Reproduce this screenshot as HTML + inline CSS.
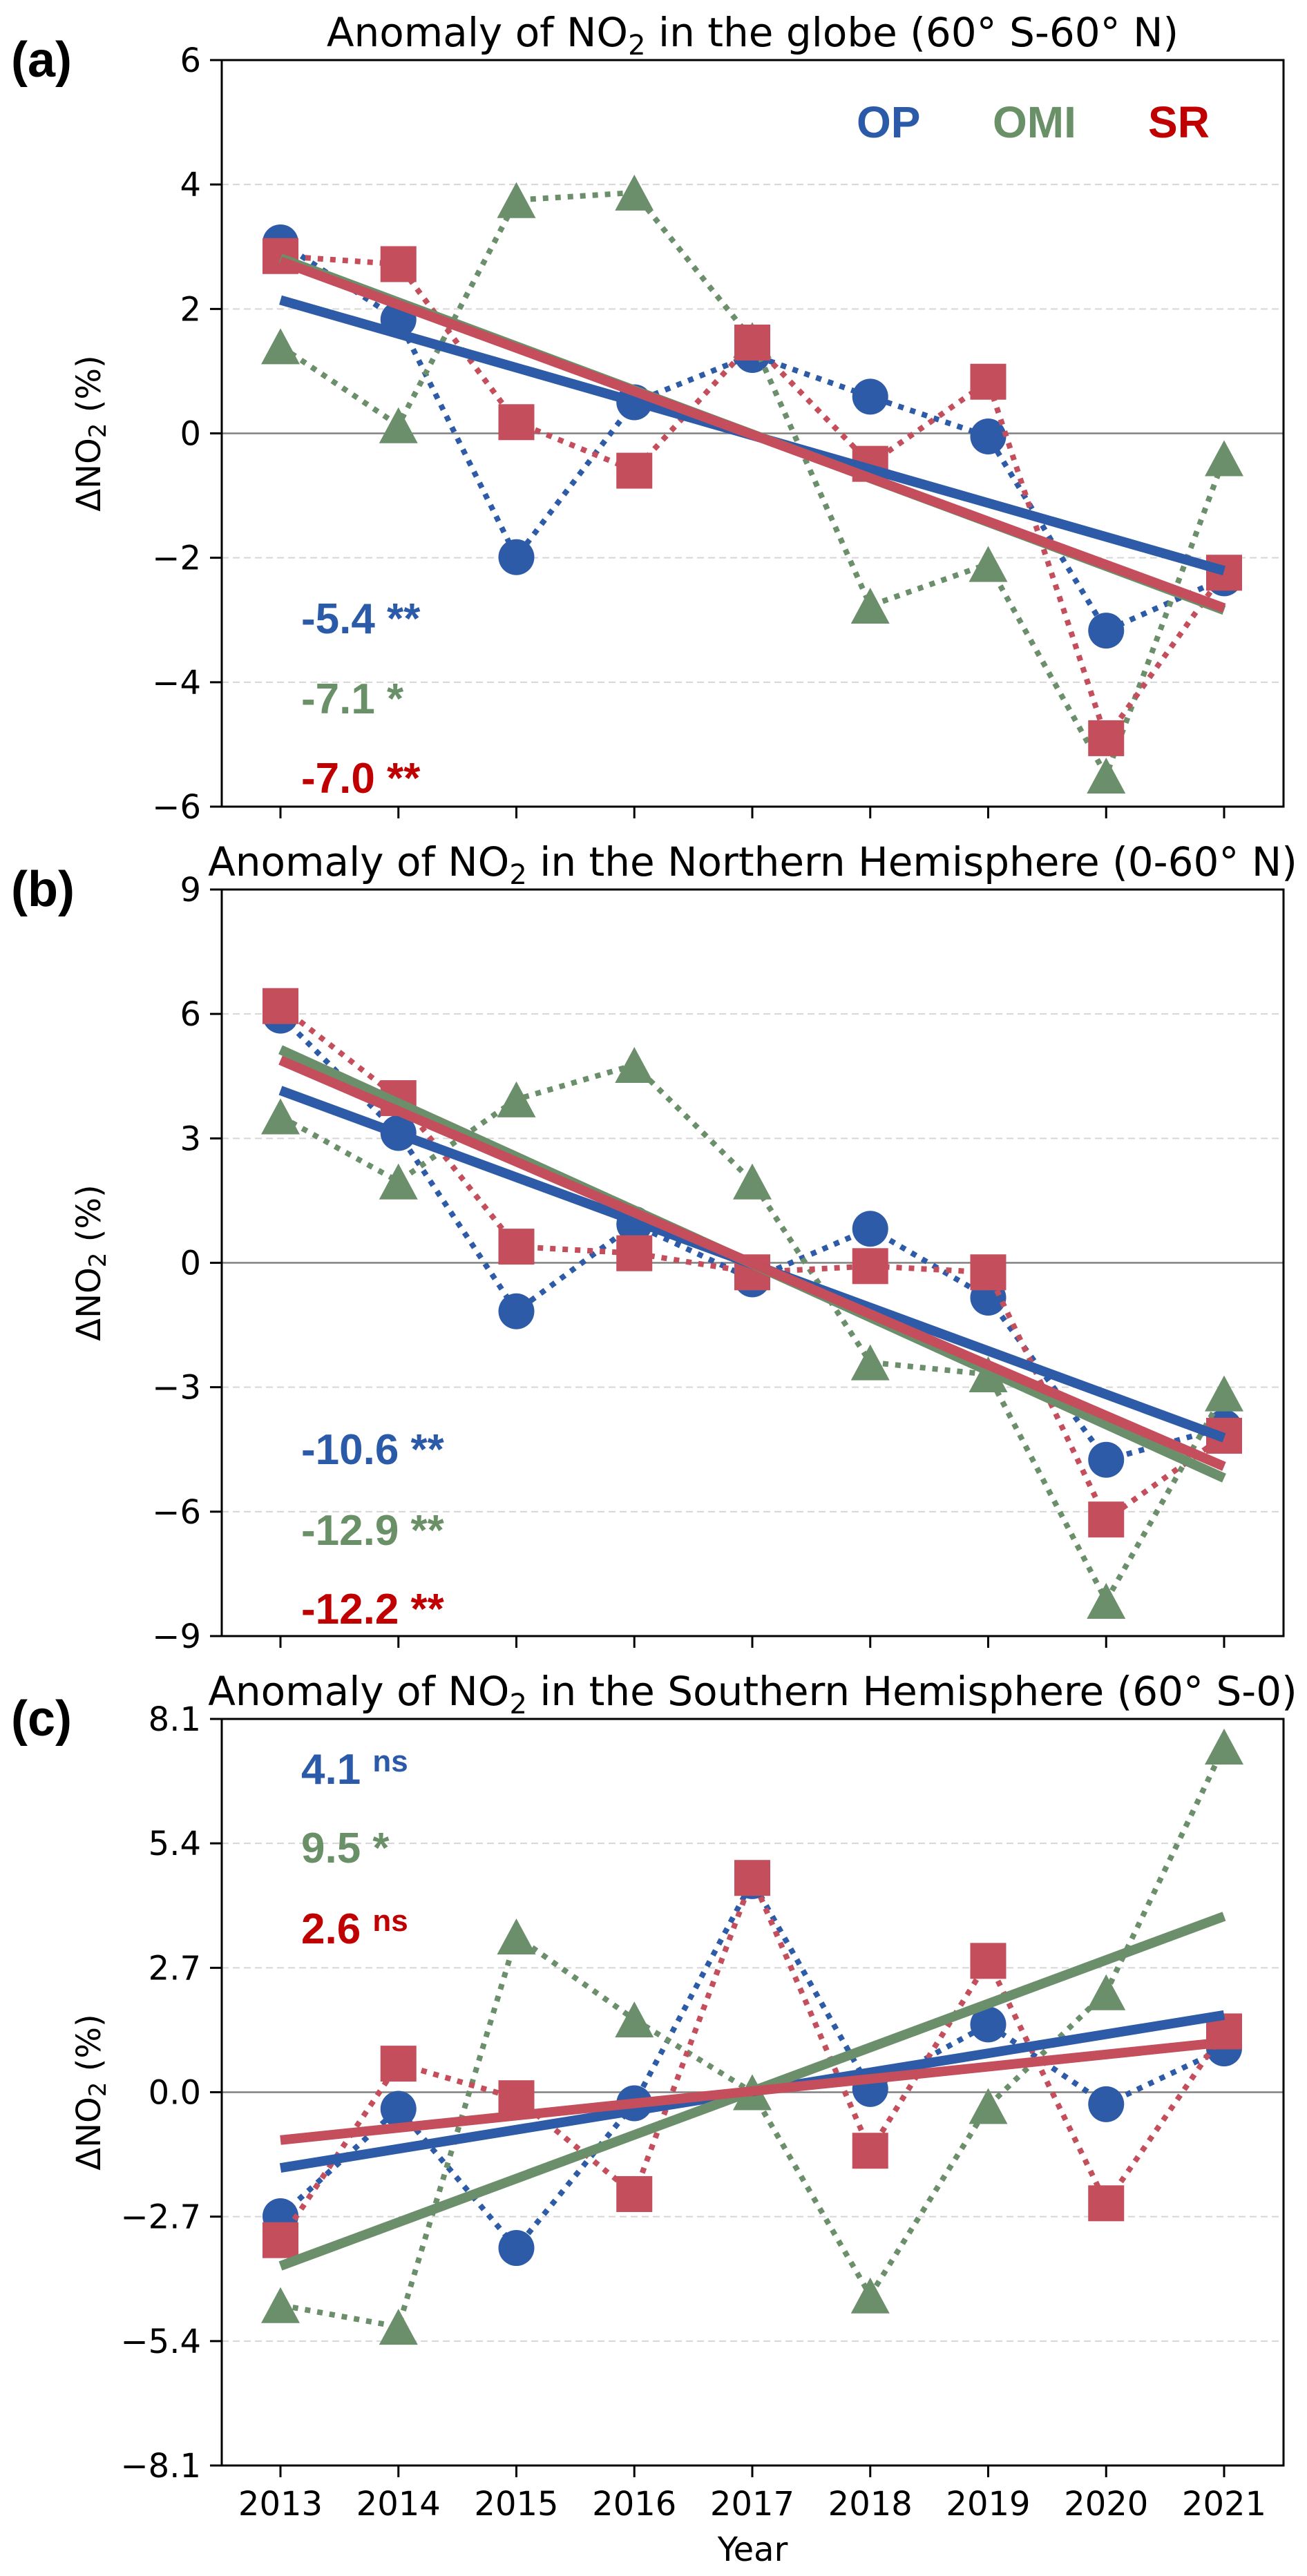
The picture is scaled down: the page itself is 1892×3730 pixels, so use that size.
<!DOCTYPE html>
<html><head><meta charset="utf-8">
<style>
html,body{margin:0;padding:0;background:#fff;}
svg{display:block;}
</style></head>
<body>
<svg id="fig" width="1892" height="3730" viewBox="0 0 1892 3730" xmlns="http://www.w3.org/2000/svg" font-family="'DejaVu Sans', 'Liberation Sans', sans-serif"></svg>
<script>
// ---------- data ----------
const years = [2013,2014,2015,2016,2017,2018,2019,2020,2021];
// panel a: globe
const opGlobe  = [3.07,1.83,-1.99,0.50,1.26,0.59,-0.05,-3.17,-2.33];
const omiGlobe = [1.40,0.13,3.75,3.87,1.50,-2.77,-2.10,-5.50,-0.40];
const srGlobe  = [2.85,2.72,0.18,-0.60,1.46,-0.49,0.83,-4.90,-2.24];
// panel b: northern hemisphere
const opNH  = [5.96,3.13,-1.17,0.93,-0.40,0.82,-0.84,-4.75,-3.97];
const omiNH = [3.53,1.96,3.94,4.77,1.96,-2.40,-2.69,-8.15,-3.15];
const srNH  = [6.19,3.97,0.39,0.23,-0.23,-0.08,-0.23,-6.19,-4.17];
// panel c: southern hemisphere
const opSH  = [-2.69,-0.36,-3.38,-0.24,4.58,0.07,1.47,-0.26,0.95];
const omiSH = [-4.62,-5.09,3.38,1.58,0.00,-4.41,-0.30,2.17,7.50];
const srSH  = [-3.21,0.62,-0.13,-2.21,4.65,-1.27,2.85,-2.41,1.32];
// tick labels
const ticksA = [6,4,2,0,-2,-4,-6];
const ticksB = [9,6,3,0,-3,-6,-9];
const ticksC = [8.1,5.4,2.7,0.0,-2.7,-5.4,-8.1];
const tickLabelsC = ["8.1","5.4","2.7","0.0","\u22122.7","\u22125.4","\u22128.1"];
// trend annotations
const trendA = ["-5.4","-7.1","-7.0"]; const sigA = ["**","*","**"];
const trendB = ["-10.6","-12.9","-12.2"]; const sigB = ["**","**","**"];
const trendC = ["4.1","9.5","2.6"]; const sigC = ["ns","*","ns"];

// ---------- style ----------
const BLUE="#2d5ba8", GREEN="#6b8f6b", RED="#c44e5c";
const TXT_BLUE="#2b5aa8", TXT_GREEN="#6a9068", TXT_RED="#c00000";
const NS="http://www.w3.org/2000/svg";
const svg=document.getElementById('fig');
const L=321, R=1858, X0=406, XSTEP=170.75;
function xs(i){return X0+XSTEP*i;}

function mk(tag,attrs,parent){const e=document.createElementNS(NS,tag);for(const k in attrs)e.setAttribute(k,attrs[k]);(parent||svg).appendChild(e);return e;}

function fit(v){const n=v.length;let mx=(n-1)/2,my=v.reduce((a,b)=>a+b,0)/n,sxy=0,sxx=0;v.forEach((y,i)=>{sxy+=(i-mx)*(y-my);sxx+=(i-mx)*(i-mx);});const b=sxy/sxx;return [my-b*mx,b];}

function panel(cfg){
  const g=mk('g',{});
  
  
  const T=cfg.top,B=cfg.top+1081,lim=cfg.lim;
  const ys=v=>T+(lim-v)/(2*lim)*(B-T);
  cfg.ticks.forEach((t,k)=>{
    const y=ys(t);
    if(t!==0 && Math.abs(t)!==lim){
      const gl=mk('line',{x1:L,x2:R,y1:y,y2:y,stroke:'#d6d6d6','stroke-width':2,'stroke-dasharray':'10 6'},g);
      
      
    }
    const tm=mk('line',{x1:L-17,x2:L,y1:y,y2:y,stroke:'#000','stroke-width':3},g);
    
    
    const tl=mk('text',{x:L-30,y:y+17,'text-anchor':'end','font-size':48,fill:'#000'},g);
    tl.textContent=cfg.tickLabels?cfg.tickLabels[k]:String(t).replace('-','\u2212');
    
    
  });
  const zl=mk('line',{x1:L,x2:R,y1:ys(0),y2:ys(0),stroke:'#808080','stroke-width':2.5},g);
  
  
  years.forEach((yr,i)=>{
    const t=mk('line',{x1:xs(i),x2:xs(i),y1:B,y2:B+17,stroke:'#000','stroke-width':3},g);
    
    
    if(cfg.xlabels){
      const tl=mk('text',{x:xs(i),y:B+72,'text-anchor':'middle','font-size':48,fill:'#000'},g);
      tl.textContent=yr;
      
      
    }
  });
  const series=[{v:cfg.op,c:BLUE,m:'circle',n:'op'},{v:cfg.omi,c:GREEN,m:'tri',n:'omi'},{v:cfg.sr,c:RED,m:'square',n:'sr'}];
  series.forEach(s=>{
    const pts=s.v.map((v,i)=>xs(i)+','+ys(v)).join(' ');
    const pl=mk('polyline',{points:pts,fill:'none',stroke:s.c,'stroke-width':8,'stroke-dasharray':'8 10'},g);
    
    
    s.v.forEach((v,i)=>{
      const x=xs(i),y=ys(v);let e;
      if(s.m==='circle') e=mk('circle',{cx:x,cy:y,r:26,fill:s.c},g);
      else if(s.m==='square') e=mk('rect',{x:x-26,y:y-26,width:52,height:52,fill:s.c},g);
      else e=mk('polygon',{points:`${x},${y-26} ${x-28},${y+26} ${x+28},${y+26}`,fill:s.c},g);
      
      
    });
  });
  [{v:cfg.op,c:BLUE,n:'op'},{v:cfg.omi,c:GREEN,n:'omi'},{v:cfg.sr,c:RED,n:'sr'}].forEach(s=>{
    const [a,b]=fit(s.v);
    const tl=mk('line',{x1:xs(0),y1:ys(a),x2:xs(8),y2:ys(a+8*b),stroke:s.c,'stroke-width':14},g);
    
    
  });
  const fr=mk('rect',{x:L,y:T,width:R-L,height:B-T,fill:'none',stroke:'#000','stroke-width':3},g);
  
  
  const ti=mk('text',{x:(L+R)/2,y:T-20,'text-anchor':'middle','font-size':58,fill:'#000'},g);
  ti.innerHTML=cfg.title1+'NO<tspan font-size="40" dy="12">2</tspan><tspan dy="-12">'+cfg.title2+'</tspan>';
  
  
  const pl=mk('text',{x:16,y:T+24,'font-size':72,'font-weight':'bold','font-family':"'Liberation Sans', sans-serif",fill:'#000'},g);
  pl.textContent=cfg.letter;
  
  
  const yc=(T+B)/2;
  const yl=mk('text',{x:0,y:0,'text-anchor':'middle','font-size':48,fill:'#000',transform:`translate(145,${yc}) rotate(-90)`},g);
  yl.innerHTML='\u0394NO<tspan font-size="34" dy="8">2</tspan><tspan dy="-8"> (%)</tspan>';
  
  
  const cols=[TXT_BLUE,TXT_GREEN,TXT_RED];
  cfg.trend.forEach((t,k)=>{
    const an=mk('text',{x:436,y:T+cfg.annY[k],'font-size':62,'font-weight':'bold','font-family':"'Liberation Sans', sans-serif",fill:cols[k]},g);
    if(cfg.sig[k]==='ns') an.innerHTML=t+' <tspan font-size="44" dy="-18">ns</tspan>';
    else an.textContent=t+' '+cfg.sig[k];
    
    
  });
}

panel({name:'panel-a-globe',top:87,lim:6,ticks:ticksA,op:opGlobe,omi:omiGlobe,sr:srGlobe,
  title1:'Anomaly of ',title2:' in the globe (60\u00b0 S-60\u00b0 N)',letter:'(a)',
  trend:trendA,sig:sigA,annY:[830,946,1061]});
panel({name:'panel-b-northern',top:1288,lim:9,ticks:ticksB,op:opNH,omi:omiNH,sr:srNH,
  title1:'Anomaly of ',title2:' in the Northern Hemisphere (0-60\u00b0 N)',letter:'(b)',
  trend:trendB,sig:sigB,annY:[832,949,1063]});
panel({name:'panel-c-southern',top:2489,lim:8.1,ticks:ticksC,tickLabels:tickLabelsC,op:opSH,omi:omiSH,sr:srSH,
  title1:'Anomaly of ',title2:' in the Southern Hemisphere (60\u00b0 S-0)',letter:'(c)',
  trend:trendC,sig:sigC,annY:[94,208,325],xlabels:true});

[['OP',1240,TXT_BLUE],['OMI',1437,TXT_GREEN],['SR',1662,TXT_RED]].forEach(l=>{
  const t=mk('text',{x:l[1],y:199,'font-size':64,'font-weight':'bold','font-family':"'Liberation Sans', sans-serif",fill:l[2]});
  t.textContent=l[0];
  
  
});
const xl=mk('text',{x:(L+R)/2,y:3708,'text-anchor':'middle','font-size':48,fill:'#000'});
xl.textContent='Year';


</script>
</body></html>
